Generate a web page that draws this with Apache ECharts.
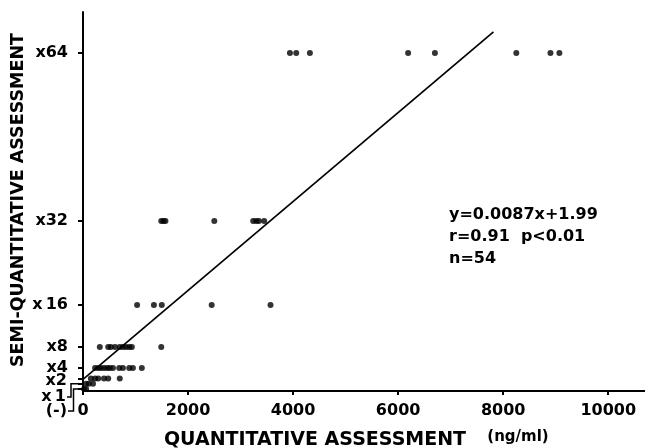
<!DOCTYPE html>
<html><head><meta charset="utf-8">
<script src="https://cdn.jsdelivr.net/npm/echarts@6/dist/echarts.min.js"></script>
<style>html,body{margin:0;padding:0;background:#fff}#c{width:645px;height:448px}</style>
</head><body><div id="c"></div>
<script>
// Semi-quantitative titer levels (y axis) and their labels
const titerValues = [0, 1, 2, 4, 8, 16, 32, 64];
const titerLabels = ['(-)', 'x\u20091', 'x2', 'x4', 'x8', 'x\u200916', 'x32', 'x64'];
const xTicks = [0, 2000, 4000, 6000, 8000, 10000];

// Quantitative values (ng/ml) grouped by semi-quantitative level
const x64Vals = [3940, 4060, 4320, 6190, 6700, 8250, 8900, 9070];
const x32Vals = [1490, 1530, 1570, 2500, 3240, 3300, 3350, 3450];
const x16Vals = [1030, 1350, 1500, 2450, 3570];
const x8Vals = [320, 480, 530, 610, 700, 760, 820, 880, 930, 1490];
const x4Vals = [230, 290, 340, 400, 460, 510, 570, 690, 760, 880, 950, 1120];
const x2Vals = [150, 230, 290, 400, 480, 700];
const x1Vals = [60, 110, 190];
const negVals = [20, 60];

// Regression line end points as drawn
const regLine = [[0, 1.8], [7815, 68]];

const groups = [[64, x64Vals], [32, x32Vals], [16, x16Vals], [8, x8Vals], [4, x4Vals], [2, x2Vals], [1, x1Vals], [0, negVals]];
const points = [];
groups.forEach(([y, xs]) => xs.forEach(x => points.push([x, y])));

const FONT = 'DejaVu Sans';
const chart = echarts.init(document.getElementById('c'), null, {renderer: 'canvas'});
chart.setOption({
  animation: false,
  backgroundColor: '#fff',
  grid: {left: 83, right: 0, top: 12, bottom: 57},
  xAxis: {
    type: 'value', min: 0, max: 10700,
    axisLine: {onZero: false, lineStyle: {color: '#000', width: 2}},
    axisTick: {customValues: xTicks, length: 4, lineStyle: {color: '#000', width: 2}},
    axisLabel: {customValues: xTicks, formatter: v => String(v), color: '#000', fontFamily: FONT, fontWeight: 'bold', fontSize: 16, margin: 12},
    splitLine: {show: false}
  },
  yAxis: {
    type: 'value', min: -0.4, max: 71.8,
    axisLine: {onZero: false, lineStyle: {color: '#000', width: 2}},
    axisTick: {customValues: titerValues, length: 5, lineStyle: {color: '#000', width: 2}},
    axisLabel: {customValues: [4, 8, 16, 32, 64], formatter: v => titerLabels[titerValues.indexOf(v)], color: '#000', fontFamily: FONT, fontWeight: 'bold', fontSize: 16, margin: 15},
    splitLine: {show: false}
  },
  series: [
    {type: 'scatter', data: points, symbolSize: 6, itemStyle: {color: '#000'}, silent: true},
    {type: 'line', data: regLine, showSymbol: false, lineStyle: {color: '#000', width: 1.7}, silent: true}
  ]
});

const px = (x, y) => chart.convertToPixel({gridIndex: 0}, [x, y]);
const p1 = px(0, 1), p0 = px(0, 0), p2 = px(0, 2);
const labStyle = {fontFamily: FONT, fontWeight: 'bold', fontSize: 16, fill: '#000', align: 'right', verticalAlign: 'middle'};
chart.setOption({
  graphic: [
    {type: 'text', x: 67, y: p2[1] + 2.5, style: Object.assign({text: titerLabels[2]}, labStyle)},
    {type: 'text', x: 66, y: 397, style: Object.assign({text: titerLabels[1]}, labStyle)},
    {type: 'text', x: 67, y: 411, style: Object.assign({text: titerLabels[0]}, labStyle)},
    {type: 'polyline', shape: {points: [[67, 397], [71, 397], [71, p1[1]], [p1[0] - 1, p1[1]]]}, style: {stroke: '#000', lineWidth: 1.5, fill: null}},
    {type: 'polyline', shape: {points: [[68, 411], [73.5, 411], [73.5, p0[1]], [p0[0] - 1, p0[1]]]}, style: {stroke: '#000', lineWidth: 1.5, fill: null}},
    {type: 'text', x: 18.5, y: 200, rotation: Math.PI / 2, style: {text: 'SEMI-QUANTITATIVE ASSESSMENT', fontFamily: FONT, fontWeight: 'bold', fontSize: 17.5, fill: '#000', align: 'center', verticalAlign: 'middle'}},
    {type: 'text', x: 315, y: 440, style: {text: 'QUANTITATIVE ASSESSMENT', fontFamily: FONT, fontWeight: 'bold', fontSize: 19, fill: '#000', align: 'center', verticalAlign: 'middle'}},
    {type: 'text', x: 518, y: 437, style: {text: '(ng/ml)', fontFamily: FONT, fontWeight: 'bold', fontSize: 15, fill: '#000', align: 'center', verticalAlign: 'middle'}},
    {type: 'text', x: 449, y: 204, style: {text: 'y=0.0087x+1.99\nr=0.91  p<0.01\nn=54', fontFamily: FONT, fontWeight: 'bold', fontSize: 16, lineHeight: 22, fill: '#000', align: 'left', verticalAlign: 'top'}}
  ]
});
</script></body></html>
